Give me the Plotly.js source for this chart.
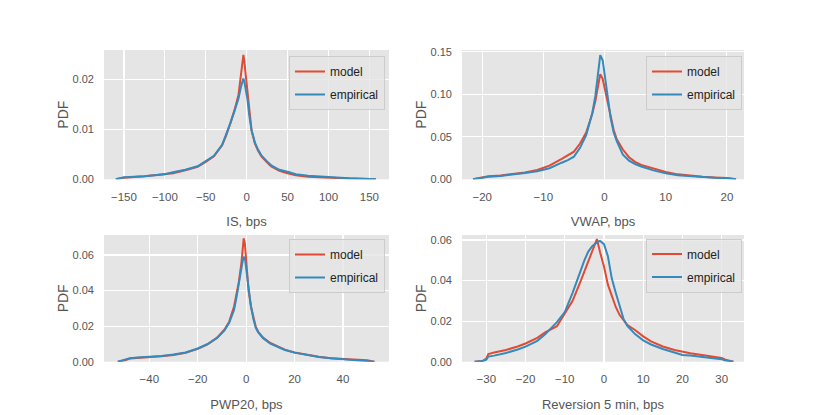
<!DOCTYPE html>
<html>
<head>
<meta charset="utf-8">
<script src="https://cdn.plot.ly/plotly-3.0.1.min.js"></script>
<style>html,body{margin:0;padding:0;background:#fff;}#chart{width:830px;height:415px;}</style>
</head>
<body>
<div id="chart"></div>
<script>
// ---- Data ----
const seriesNames = ['model', 'empirical'];

const isX = [-160,-150,-125,-100,-90,-75,-60,-50,-40,-30,-25,-20,-15,-10,-7,-5,-4,-3,-1,0,1,3,6,10,14,18,22,26,30,40,50,60,75,100,125,150,158];
const isModel = [0,0.0003,0.0006,0.001,0.0012,0.0018,0.0025,0.0035,0.0046,0.0068,0.0088,0.0112,0.0138,0.0169,0.0205,0.0235,0.0249,0.0238,0.0205,0.0188,0.0168,0.0133,0.0098,0.0072,0.0057,0.0046,0.0038,0.0032,0.0026,0.0017,0.0012,0.0008,0.0005,0.0003,0.00015,0.00006,0];
const isEmp = [0,0.0004,0.0006,0.001,0.0014,0.0019,0.0026,0.0036,0.0047,0.0069,0.0089,0.0112,0.0136,0.0162,0.0185,0.0198,0.0202,0.0197,0.018,0.0172,0.016,0.013,0.0098,0.0074,0.0059,0.0048,0.004,0.0034,0.0028,0.0019,0.0015,0.001,0.0007,0.0004,0.0002,0.00008,0];

const vwapX = [-21.5,-20,-19,-17,-15,-13,-11,-9,-7,-6,-5,-4,-3,-2,-1.5,-1,-0.7,-0.3,0,0.5,1,1.5,2,3,4,5,6,8,10,12,14,16,18,20,21.5];
const vwapModel = [0,0.002,0.0035,0.0045,0.006,0.008,0.011,0.016,0.024,0.028,0.0325,0.042,0.055,0.077,0.092,0.112,0.1235,0.118,0.108,0.088,0.071,0.058,0.047,0.035,0.026,0.0205,0.017,0.0125,0.0085,0.0058,0.0042,0.003,0.0022,0.0015,0];
const vwapEmp = [0,0.002,0.003,0.004,0.0055,0.0075,0.0095,0.013,0.0195,0.0225,0.0266,0.037,0.052,0.078,0.098,0.128,0.146,0.14,0.125,0.098,0.072,0.055,0.045,0.029,0.022,0.018,0.015,0.0105,0.007,0.0048,0.0035,0.0025,0.0018,0.0012,0];

const pwpX = [-53,-50,-48,-45,-40,-35,-30,-25,-20,-16,-12,-9,-7,-5,-4,-3,-2,-1.5,-1,-0.5,0,0.5,1,2,3,4,5,7,10,13,16,20,25,30,35,40,45,50,53];
const pwpModel = [0,0.0008,0.0018,0.002,0.0024,0.003,0.0038,0.005,0.0072,0.0098,0.0135,0.018,0.0225,0.031,0.038,0.045,0.055,0.062,0.0693,0.066,0.056,0.047,0.04,0.031,0.0245,0.0195,0.0168,0.0135,0.0105,0.0085,0.0068,0.0052,0.0038,0.0028,0.002,0.0016,0.0012,0.0008,0];
const pwpEmp = [0,0.001,0.002,0.0023,0.0026,0.0032,0.004,0.0052,0.0074,0.0098,0.0133,0.0175,0.0218,0.029,0.036,0.043,0.052,0.056,0.059,0.058,0.053,0.046,0.04,0.031,0.024,0.019,0.0165,0.0132,0.0102,0.0082,0.0066,0.0051,0.0037,0.0027,0.002,0.0015,0.0011,0.0006,0];

const revX = [-33,-31,-30,-29.5,-28,-25,-22,-20,-17,-15,-12,-10,-8,-6,-5,-4,-3,-2,-1.8,-1,0,1,2,3,4,5,6,8,10,12,15,18,20,22,25,28,30,31,33];
const revModel = [0,0.0003,0.0015,0.0038,0.0045,0.0058,0.0075,0.009,0.0118,0.0145,0.0175,0.0235,0.03,0.0395,0.0445,0.049,0.055,0.0595,0.0605,0.054,0.047,0.038,0.032,0.027,0.023,0.0205,0.018,0.0155,0.0125,0.01,0.0075,0.0058,0.0049,0.0042,0.0033,0.0026,0.0018,0.001,0];
const revEmp = [0,0.0003,0.001,0.0025,0.003,0.0043,0.006,0.0074,0.0103,0.0135,0.0195,0.0245,0.034,0.045,0.05,0.0543,0.057,0.0585,0.059,0.0596,0.058,0.052,0.041,0.034,0.027,0.021,0.0175,0.0135,0.0105,0.0085,0.0063,0.0043,0.0033,0.003,0.0024,0.0018,0.0012,0.0006,0];

const xTitles = ['IS, bps', 'VWAP, bps', 'PWP20, bps', 'Reversion 5 min, bps'];
const yTitle = 'PDF';
const xTickVals = [[-150,-100,-50,0,50,100,150],[-20,-10,0,10,20],[-40,-20,0,20,40],[-30,-20,-10,0,10,20,30]];
const yTickVals = [[0,0.01,0.02],[0,0.05,0.10,0.15],[0,0.02,0.04,0.06],[0,0.02,0.04,0.06]];

// ---- Styling / layout ----
const RED = '#E24A33', BLUE = '#348ABD';
const FONT = 'Liberation Sans, Arial, sans-serif';
const W = 830, H = 415;
const pxX = (a,b) => [a/W, b/W];
const pxY = (top,bottom) => [1-bottom/H, 1-top/H];

const panels = [
  {x: isX, m: isModel, e: isEmp, xr: [-174.4, 174], yr: [0, 0.0259], dx: pxX(104, 389), dy: pxY(50, 179.3), lx: 385, ly: 56},
  {x: vwapX, m: vwapModel, e: vwapEmp, xr: [-23.3, 22.8], yr: [0, 0.152], dx: pxX(462, 744), dy: pxY(50, 179.3), lx: 742, ly: 56},
  {x: pwpX, m: pwpModel, e: pwpEmp, xr: [-58.7, 59], yr: [0, 0.0712], dx: pxX(104, 389), dy: pxY(235, 361.7), lx: 385, ly: 239},
  {x: revX, m: revModel, e: revEmp, xr: [-36.2, 35.7], yr: [0, 0.0625], dx: pxX(462, 744), dy: pxY(235, 361.7), lx: 742, ly: 238.5},
];

const traces = [];
const layout = {
  width: W, height: H,
  margin: {l: 0, r: 0, t: 0, b: 0},
  paper_bgcolor: '#ffffff',
  plot_bgcolor: '#E5E5E5',
  font: {family: FONT, color: '#555555', size: 11},
  showlegend: true,
};

panels.forEach((p, i) => {
  const n = i + 1;
  const sfx = n === 1 ? '' : String(n);
  const legendId = 'legend' + sfx;
  traces.push({x: p.x, y: p.m, type: 'scatter', mode: 'lines', name: seriesNames[0],
    line: {color: RED, width: 2}, xaxis: 'x' + sfx, yaxis: 'y' + sfx, legend: legendId,
    legendgroup: 'm' + n, hoverinfo: 'skip'});
  traces.push({x: p.x, y: p.e, type: 'scatter', mode: 'lines', name: seriesNames[1],
    line: {color: BLUE, width: 2}, xaxis: 'x' + sfx, yaxis: 'y' + sfx, legend: legendId,
    legendgroup: 'e' + n, hoverinfo: 'skip'});
  layout['xaxis' + sfx] = {
    domain: p.dx, range: p.xr, anchor: 'y' + sfx,
    tickvals: xTickVals[i], ticks: '', showline: false, zeroline: false,
    gridcolor: '#ffffff', gridwidth: 1.2, ticklabelstandoff: 9,
    tickfont: {size: 11.5, color: '#555555', family: FONT},
    title: {text: xTitles[i], font: {size: 13, color: '#555555', family: FONT}, standoff: 15},
  };
  layout['yaxis' + sfx] = {
    domain: p.dy, range: p.yr, anchor: 'x' + sfx,
    tickvals: yTickVals[i], tickformat: '.2f', ticks: '', showline: false, zeroline: false,
    gridcolor: '#ffffff', gridwidth: 1.2, ticklabelstandoff: 9,
    tickfont: {size: 11, color: '#555555', family: FONT},
    title: {text: yTitle, font: {size: 14, color: '#555555', family: FONT}, standoff: 0},
  };
  layout[legendId] = {
    x: p.lx / W, y: 1 - p.ly / H, xanchor: 'right', yanchor: 'top',
    bgcolor: 'rgba(229,229,229,0.8)', bordercolor: '#cccccc', borderwidth: 1,
    font: {size: 12, color: '#222222', family: FONT},
    tracegroupgap: 4,
  };
});

Plotly.newPlot('chart', traces, layout, {displayModeBar: false, staticPlot: true});
</script>
</body>
</html>
